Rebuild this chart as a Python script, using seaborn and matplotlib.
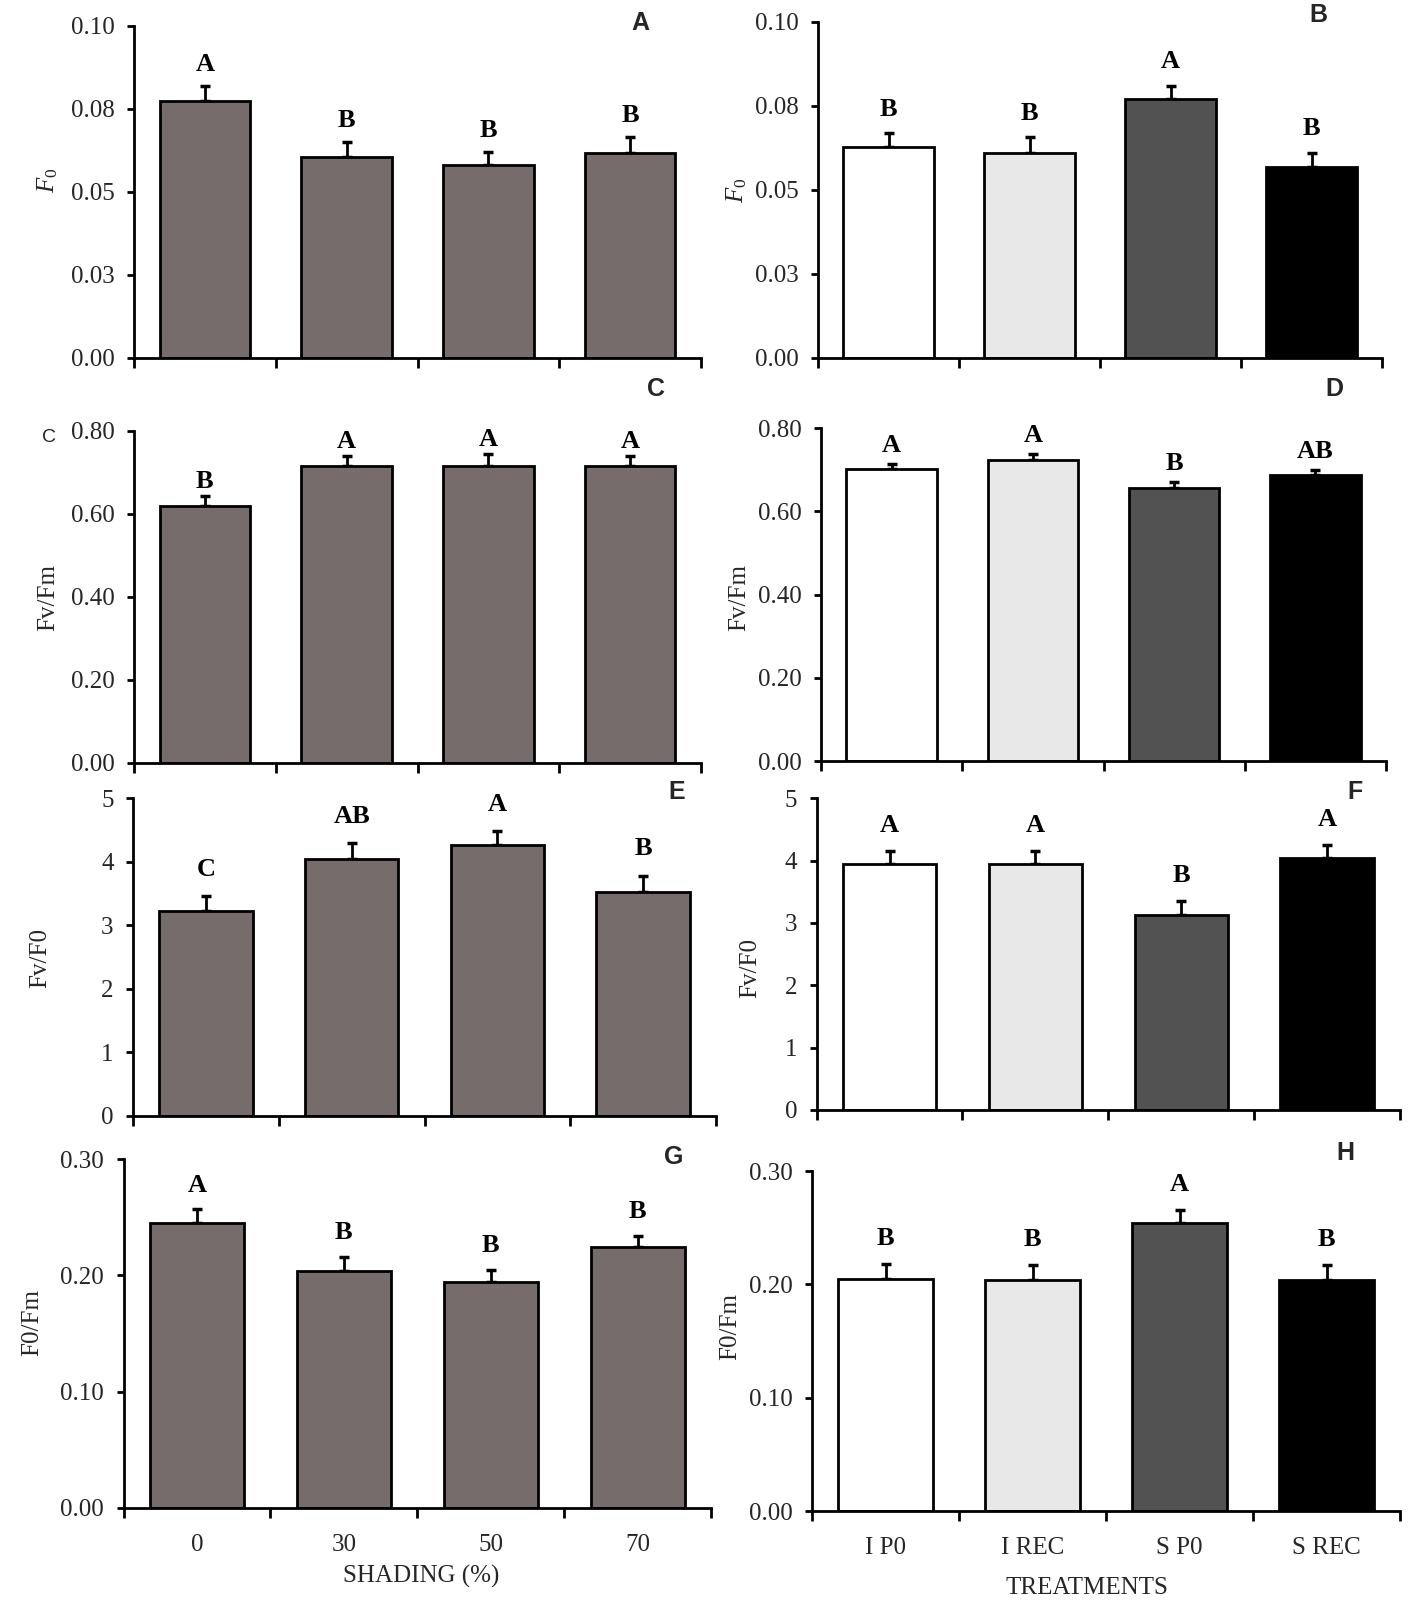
import numpy as np
import pandas as pd
import matplotlib
matplotlib.use("Agg")
import matplotlib.pyplot as plt
import seaborn as sns

# ---------------- data ----------------
shading_labels = ["0", "30", "50", "70"]
treatment_labels = ["I P0", "I REC", "S P0", "S REC"]

f0_shading = [0.0774, 0.0605, 0.0580, 0.0617]
f0_shading_err = [0.0044, 0.0046, 0.0040, 0.0048]
f0_shading_let = ["A", "B", "B", "B"]

f0_treat = [0.0628, 0.0610, 0.0769, 0.0569]
f0_treat_err = [0.0040, 0.0046, 0.0040, 0.0041]
f0_treat_let = ["B", "B", "A", "B"]

fvfm_shading = [0.618, 0.716, 0.716, 0.716]
fvfm_shading_err = [0.025, 0.023, 0.028, 0.023]
fvfm_shading_let = ["B", "A", "A", "A"]

fvfm_treat = [0.701, 0.724, 0.657, 0.688]
fvfm_treat_err = [0.013, 0.014, 0.014, 0.012]
fvfm_treat_let = ["A", "A", "B", "AB"]

fvf0_shading = [3.22, 4.04, 4.26, 3.53]
fvf0_shading_err = [0.24, 0.25, 0.22, 0.25]
fvf0_shading_let = ["C", "AB", "A", "B"]

fvf0_treat = [3.95, 3.95, 3.12, 4.05]
fvf0_treat_err = [0.21, 0.21, 0.23, 0.20]
fvf0_treat_let = ["A", "A", "B", "A"]

f0fm_shading = [0.245, 0.204, 0.194, 0.224]
f0fm_shading_err = [0.012, 0.012, 0.011, 0.010]
f0fm_shading_let = ["A", "B", "B", "B"]

f0fm_treat = [0.205, 0.204, 0.254, 0.204]
f0fm_treat_err = [0.013, 0.013, 0.012, 0.013]
f0fm_treat_let = ["B", "B", "A", "B"]

f0_ticks = [0.0, 0.025, 0.05, 0.075, 0.10]
f0_ticklabels = ["0.00", "0.03", "0.05", "0.08", "0.10"]
fvfm_ticks = [0.0, 0.2, 0.4, 0.6, 0.8]
fvfm_ticklabels = ["0.00", "0.20", "0.40", "0.60", "0.80"]
fvf0_ticks = [0, 1, 2, 3, 4, 5]
fvf0_ticklabels = ["0", "1", "2", "3", "4", "5"]
f0fm_ticks = [0.0, 0.1, 0.2, 0.3]
f0fm_ticklabels = ["0.00", "0.10", "0.20", "0.30"]

# ---------------- style ----------------
sns.set_theme(style="ticks")
plt.rcParams["font.family"] = ["Liberation Serif", "DejaVu Serif"]
plt.rcParams["mathtext.fontset"] = "custom"
plt.rcParams["mathtext.it"] = "Liberation Serif:italic"
plt.rcParams["mathtext.rm"] = "Liberation Serif"

W, H = 1417, 1604
fig = plt.figure(figsize=(W / 100, H / 100), dpi=100)
fig.patch.set_facecolor("white")

SHADE_COLOR = "#766c6c"
TREAT_COLORS = ["#ffffff", "#e8e8e8", "#525252", "#000000"]

TICK_FS = 18
LABEL_FS = 18


def rect(left, right, top, bottom):
    return [left / W, 1 - bottom / H, (right - left) / W, (bottom - top) / H]


panels = [
    dict(r=rect(134, 701, 25.7, 357.7), v=f0_shading, e=f0_shading_err, l=f0_shading_let,
         t=f0_ticks, tl=f0_ticklabels, yl=r"$\mathit{F_0}$", ylxy=(48, 180), p="A", pxy=(640, 23),
         treat=False, bottom=False, pad=7),
    dict(r=rect(818, 1382, 21.7, 357.7), v=f0_treat, e=f0_treat_err, l=f0_treat_let,
         t=f0_ticks, tl=f0_ticklabels, yl=r"$\mathit{F_0}$", ylxy=(737, 190), p="B", pxy=(1318, 15),
         treat=True, bottom=False, pad=9),
    dict(r=rect(134, 701, 430.7, 762.7), v=fvfm_shading, e=fvfm_shading_err, l=fvfm_shading_let,
         t=fvfm_ticks, tl=fvfm_ticklabels, yl="Fv/Fm", ylxy=(48, 597), p="C", pxy=(656, 389),
         treat=False, bottom=False, pad=2),
    dict(r=rect(821, 1386, 428.3, 761), v=fvfm_treat, e=fvfm_treat_err, l=fvfm_treat_let,
         t=fvfm_ticks, tl=fvfm_ticklabels, yl="Fv/Fm", ylxy=(739, 597), p="D", pxy=(1334, 389),
         treat=True, bottom=False, pad=5),
    dict(r=rect(133, 716, 798.3, 1115.7), v=fvf0_shading, e=fvf0_shading_err, l=fvf0_shading_let,
         t=fvf0_ticks, tl=fvf0_ticklabels, yl="Fv/F0", ylxy=(40, 958), p="E", pxy=(677, 792),
         treat=False, bottom=False, pad=11),
    dict(r=rect(816.6, 1400, 798.3, 1110), v=fvf0_treat, e=fvf0_treat_err, l=fvf0_treat_let,
         t=fvf0_ticks, tl=fvf0_ticklabels, yl="Fv/F0", ylxy=(750, 968), p="F", pxy=(1355, 792),
         treat=True, bottom=False, pad=10),
    dict(r=rect(123.5, 711, 1159, 1508), v=f0fm_shading, e=f0fm_shading_err, l=f0fm_shading_let,
         t=f0fm_ticks, tl=f0fm_ticklabels, yl="F0/Fm", ylxy=(32, 1323), p="G", pxy=(674, 1157),
         treat=False, bottom=True, pad=9),
    dict(r=rect(812, 1400, 1171, 1511), v=f0fm_treat, e=f0fm_treat_err, l=f0fm_treat_let,
         t=f0fm_ticks, tl=f0fm_ticklabels, yl="F0/Fm", ylxy=(730, 1327), p="H", pxy=(1345, 1153),
         treat=True, bottom=True, pad=10),
]

for P in panels:
    ax = fig.add_axes(P["r"])
    cats = treatment_labels if P["treat"] else shading_labels
    df = pd.DataFrame({"cat": cats, "val": P["v"]})
    if P["treat"]:
        sns.barplot(data=df, x="cat", y="val", hue="cat", palette=TREAT_COLORS,
                    legend=False, width=0.64, edgecolor="black", linewidth=2.0,
                    errorbar=None, ax=ax, order=cats, hue_order=cats)
    else:
        sns.barplot(data=df, x="cat", y="val", color=SHADE_COLOR, saturation=1,
                    width=0.64, edgecolor="black", linewidth=2.0,
                    errorbar=None, ax=ax, order=cats)
    for patch in ax.patches:
        patch.set_zorder(2)
    xs = np.arange(len(cats))
    vals = np.array(P["v"])
    errs = np.array(P["e"])
    ax.errorbar(xs, vals, yerr=[np.zeros_like(errs), errs], fmt="none",
                ecolor="black", elinewidth=2.0, capsize=3.5, capthick=2.5, zorder=1)
    for x, v, e, let in zip(xs, vals, errs, P["l"]):
        ax.annotate(let, (x, v + e), xytext=(0, P["pad"]), textcoords="offset points",
                    ha="center", va="bottom", fontsize=19, fontweight="bold",
                    family=["Liberation Serif"], color="black")

    ax.set_xlim(-0.5, 3.5)
    ax.set_ylim(P["t"][0], P["t"][-1])
    ax.set_yticks(P["t"])
    ax.set_yticklabels(P["tl"], fontsize=TICK_FS)
    ax.set_xticks([-0.5, 0.5, 1.5, 2.5, 3.5])
    ax.set_xticklabels([])
    ax.set_xticks(xs, minor=True)
    if P["bottom"]:
        ax.set_xticklabels(cats, minor=True, fontsize=TICK_FS)
    else:
        ax.set_xticklabels([], minor=True)
    ax.tick_params(axis="x", which="major", direction="out", length=7, width=2, color="black")
    ax.tick_params(axis="x", which="minor", length=0, pad=19)
    ax.tick_params(axis="y", direction="out", length=5, width=2, color="black", pad=9)
    ax.set_xlabel("")
    ax.set_ylabel("")
    sns.despine(ax=ax)
    for s in ("left", "bottom"):
        ax.spines[s].set_linewidth(2.0)
        ax.spines[s].set_color("black")
    ax.set_facecolor("white")
    ax.grid(False)

    fig.text(P["ylxy"][0] / W, 1 - P["ylxy"][1] / H, P["yl"], rotation=90,
             ha="center", va="center", fontsize=LABEL_FS)
    fig.text(P["pxy"][0] / W, 1 - P["pxy"][1] / H, P["p"], ha="center", va="center",
             fontsize=18, fontweight="bold", family=["Liberation Sans"])

# stray label next to panel C axis
fig.text(49 / W, 1 - 438 / H, "C", ha="center", va="center", fontsize=14,
         family=["Liberation Sans"])

fig.text(421 / W, 1 - 1576 / H, "SHADING (%)", ha="center", va="center", fontsize=LABEL_FS)
fig.text(1087 / W, 1 - 1588 / H, "TREATMENTS", ha="center", va="center", fontsize=LABEL_FS)

fig.savefig("out.png", dpi=100, facecolor="white")
